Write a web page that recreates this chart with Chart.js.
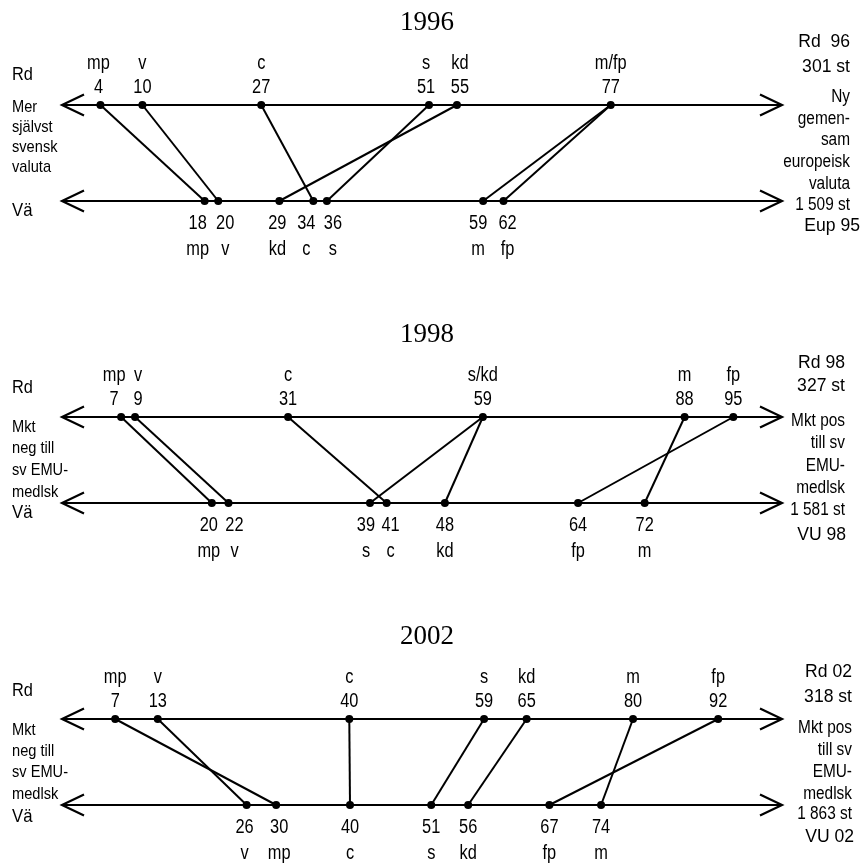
<!DOCTYPE html>
<html lang="sv">
<head>
<meta charset="UTF-8" />
<title>Rd och Vä 1996, 1998, 2002</title>
<script src="https://cdn.jsdelivr.net/npm/chart.js"></script>
<style>
  html, body { margin: 0; padding: 0; background: #fff; }
  canvas { display: block; }
</style>
</head>
<body>
<canvas id="c96" width="862" height="300"></canvas>
<canvas id="c98" width="862" height="300"></canvas>
<canvas id="c02" width="862" height="263"></canvas>

<script>
  // 1996 (Rd above, Vä below)
  const top96Parties = ['mp', 'v', 'c', 's', 'kd', 'm/fp'];
  const top96Values  = [4, 10, 27, 51, 55, 77];
  const bot96Parties = ['mp', 'v', 'kd', 'c', 's', 'm', 'fp'];
  const bot96Values  = [18, 20, 29, 34, 36, 59, 62];

  // 1998
  const top98Parties = ['mp', 'v', 'c', 's/kd', 'm', 'fp'];
  const top98Values  = [7, 9, 31, 59, 88, 95];
  const bot98Parties = ['mp', 'v', 's', 'c', 'kd', 'fp', 'm'];
  const bot98Values  = [20, 22, 39, 41, 48, 64, 72];

  // 2002
  const top02Parties = ['mp', 'v', 'c', 's', 'kd', 'm', 'fp'];
  const top02Values  = [7, 13, 40, 59, 65, 80, 92];
  const bot02Parties = ['v', 'mp', 'c', 's', 'kd', 'fp', 'm'];
  const bot02Values  = [26, 30, 40, 51, 56, 67, 74];

  const SANS = '"Liberation Sans", Arial, sans-serif';
  const SERIF = '"Liberation Serif", "Times New Roman", serif';

  function txt(ctx, s, x, y, size, sx, align, font) {
    ctx.save();
    ctx.font = size + 'px ' + (font || SANS);
    ctx.textAlign = align;
    ctx.textBaseline = 'middle';
    ctx.fillStyle = '#000';
    ctx.translate(x, y);
    ctx.scale(sx, 1);
    ctx.fillText(s, 0, 0);
    ctx.restore();
  }

  const panels = [
    {
      id: 'c96', title: '1996',
      topParties: top96Parties, topValues: top96Values,
      botParties: bot96Parties, botValues: bot96Values,
      topRange: [-1.5, 101.5], botRange: [-3, 103],
      padTop: 105, padBottom: 99,
      topNudge: [-2, 0, 0, -3, 3, 0], botNudge: [-7, 7, -2, -7, 6, -5, 4],
      rdOff: -30, vaOff: 10,
      leftLines: ['Mer', 'självst', 'svensk', 'valuta'], leftStart: 2, leftStep: 20,
      rightHead: ['Rd  96', '301 st'], rightHeadOff: [-63, -38],
      rightLines: ['Ny', 'gemen-', 'sam', 'europeisk', 'valuta'], rightStart: -8, rightStep: 21.7,
      count: '1 509 st', source: 'Eup 95', countOff: 4, sourceOff: 25,
      rightEdge: 850, sourceEdge: 860
    },
    {
      id: 'c98', title: '1998',
      topParties: top98Parties, topValues: top98Values,
      botParties: bot98Parties, botValues: bot98Values,
      topRange: [-1.5, 102], botRange: [2, 88.5],
      padTop: 117, padBottom: 97,
      topNudge: [-7, 3, 0, 0, 0, 0], botNudge: [-3, 6, -4, 4, 0, 0, 0],
      rdOff: -29, vaOff: 10,
      leftLines: ['Mkt', 'neg till', 'sv EMU-', 'medlsk'], leftStart: 10, leftStep: 21.7,
      rightHead: ['Rd 98', '327 st'], rightHeadOff: [-54, -31],
      rightLines: ['Mkt pos', 'till sv', 'EMU-', 'medlsk'], rightStart: 4, rightStep: 22.5,
      count: '1 581 st', source: 'VU 98', countOff: 7, sourceOff: 32,
      rightEdge: 845, sourceEdge: 846
    },
    {
      id: 'c02', title: '2002',
      topParties: top02Parties, topValues: top02Values,
      botParties: bot02Parties, botValues: bot02Values,
      topRange: [-0.5, 101], botRange: [1, 98.5],
      padTop: 119, padBottom: 58,
      topNudge: [0, 0, 0, 0, 0, 0, 0], botNudge: [-2, 3, 0, 0, 0, 0, 0],
      rdOff: -28, vaOff: 12,
      leftLines: ['Mkt', 'neg till', 'sv EMU-', 'medlsk'], leftStart: 11, leftStep: 21.3,
      rightHead: ['Rd 02', '318 st'], rightHeadOff: [-47, -22],
      rightLines: ['Mkt pos', 'till sv', 'EMU-', 'medlsk'], rightStart: 9, rightStep: 22,
      count: '1 863 st', source: 'VU 02', countOff: 9, sourceOff: 32,
      rightEdge: 852, sourceEdge: 854
    }
  ];

  function makePlugin(p) {
    return {
      id: 'parallel',
      beforeDatasetsDraw(chart) {
        const { ctx, chartArea: a, scales } = chart;
        const yT = scales.y.getPixelForValue(1);
        const yB = scales.y.getPixelForValue(0);
        ctx.save();
        ctx.strokeStyle = '#000';
        ctx.lineWidth = 2.2;
        [yT, yB].forEach(y => {
          ctx.beginPath();
          ctx.moveTo(a.left, y); ctx.lineTo(a.right, y);
          ctx.moveTo(a.left + 22, y - 10.5); ctx.lineTo(a.left, y); ctx.lineTo(a.left + 22, y + 10.5);
          ctx.moveTo(a.right - 22, y - 10.5); ctx.lineTo(a.right, y); ctx.lineTo(a.right - 22, y + 10.5);
          ctx.stroke();
        });
        // connect each party's Rd position to its Vä position
        ctx.lineWidth = 2;
        p.botParties.forEach((name, i) => {
          const j = p.topParties.findIndex(t => t.split('/').includes(name));
          ctx.beginPath();
          ctx.moveTo(scales.xTop.getPixelForValue(p.topValues[j]), yT);
          ctx.lineTo(scales.xBot.getPixelForValue(p.botValues[i]), yB);
          ctx.stroke();
        });
        ctx.restore();
      },
      afterDatasetsDraw(chart) {
        const { ctx, scales } = chart;
        const yT = scales.y.getPixelForValue(1);
        const yB = scales.y.getPixelForValue(0);
        const cx = 427;

        txt(ctx, p.title, cx, yT - 82.5, 27, 1, 'center', SERIF);

        p.topValues.forEach((v, i) => {
          const x = scales.xTop.getPixelForValue(v) + p.topNudge[i];
          txt(ctx, p.topParties[i], x, yT - 41, 19.5, 0.84, 'center');
          txt(ctx, String(v), x, yT - 17, 19.5, 0.84, 'center');
        });
        p.botValues.forEach((v, i) => {
          const x = scales.xBot.getPixelForValue(v) + p.botNudge[i];
          txt(ctx, String(v), x, yB + 23, 19.5, 0.84, 'center');
          txt(ctx, p.botParties[i], x, yB + 48.5, 19.5, 0.84, 'center');
        });

        // left side
        txt(ctx, 'Rd', 12, yT + p.rdOff, 19, 0.86, 'left');
        p.leftLines.forEach((s, i) => txt(ctx, s, 12, yT + p.leftStart + i * p.leftStep, 17, 0.86, 'left'));
        txt(ctx, 'Vä', 12, yB + p.vaOff, 19, 0.88, 'left');

        // right side
        p.rightHead.forEach((s, i) => txt(ctx, s, p.rightEdge, yT + p.rightHeadOff[i], 18.5, 0.95, 'right'));
        p.rightLines.forEach((s, i) => txt(ctx, s, p.rightEdge, yT + p.rightStart + i * p.rightStep, 17.5, 0.88, 'right'));
        txt(ctx, p.count, p.rightEdge, yB + p.countOff, 17.5, 0.88, 'right');
        txt(ctx, p.source, p.sourceEdge, yB + p.sourceOff, 18.5, 0.95, 'right');
      }
    };
  }

  panels.forEach(p => {
    const dot = { pointRadius: 4, pointBackgroundColor: '#000', pointBorderWidth: 0, showLine: false, clip: false };
    new Chart(document.getElementById(p.id), {
      type: 'scatter',
      data: {
        datasets: [
          Object.assign({ label: 'Rd', xAxisID: 'xTop', data: p.topValues.map(v => ({ x: v, y: 1 })) }, dot),
          Object.assign({ label: 'Vä', xAxisID: 'xBot', data: p.botValues.map(v => ({ x: v, y: 0 })) }, dot)
        ]
      },
      options: {
        responsive: false,
        animation: false,
        events: [],
        layout: { padding: { left: 62, right: 80, top: p.padTop, bottom: p.padBottom } },
        plugins: { legend: { display: false }, tooltip: { enabled: false } },
        scales: {
          xTop: { type: 'linear', axis: 'x', position: 'top', display: false, min: p.topRange[0], max: p.topRange[1] },
          xBot: { type: 'linear', axis: 'x', position: 'bottom', display: false, min: p.botRange[0], max: p.botRange[1] },
          y: { display: false, min: 0, max: 1 }
        }
      },
      plugins: [makePlugin(p)]
    });
  });
</script>
</body>
</html>
